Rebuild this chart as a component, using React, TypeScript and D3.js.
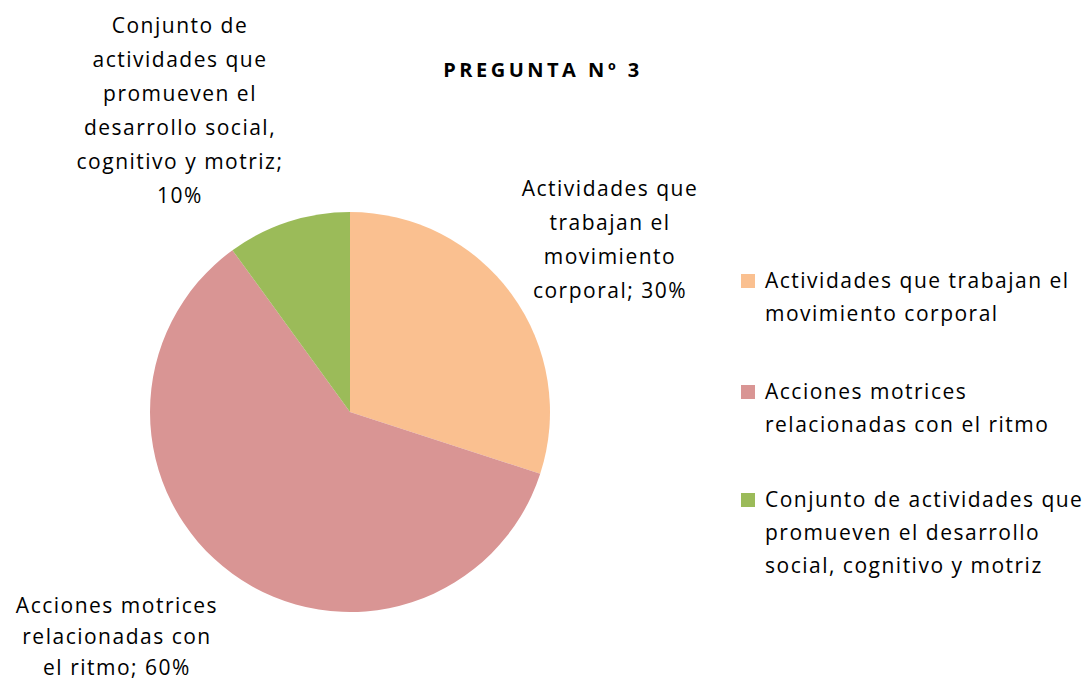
import React, { useEffect, useRef } from 'react';
import * as d3 from 'd3';

const categories = [
  'Actividades que trabajan el movimiento corporal',
  'Acciones motrices relacionadas con el ritmo',
  'Conjunto de actividades que promueven el desarrollo social, cognitivo y motriz',
];
const values = [30, 60, 10];
const colors = ['#FAC090', '#D99594', '#9BBB59'];

// label text as wrapped in the picture
const labelLines = [
  ['Actividades que', 'trabajan el', 'movimiento', 'corporal; 30%'],
  ['Acciones motrices', 'relacionadas con', 'el ritmo; 60%'],
  ['Conjunto de', 'actividades que', 'promueven el', 'desarrollo social,', 'cognitivo y motriz;', '10%'],
];
const legendLines = [
  ['Actividades que trabajan el', 'movimiento corporal'],
  ['Acciones motrices', 'relacionadas con el ritmo'],
  ['Conjunto de actividades que', 'promueven el desarrollo', 'social, cognitivo y motriz'],
];
const title = 'PREGUNTA Nº 3';

const App: React.FC = () => {
  const svgRef = useRef<SVGSVGElement>(null);

  useEffect(() => {
    if (!svgRef.current) return;
    const svg = d3.select(svgRef.current);
    svg.selectAll('*').remove();

    const width = 1091;
    const height = 681;
    const cx = 350;
    const cy = 412;
    const radius = 200;
    const font = '"Open Sans", "DejaVu Sans", sans-serif';
    const fontSize = 21;
    const spacing = 1.5;
    const lineH = 34;

    svg.attr('width', width).attr('height', height);
    svg.append('rect').attr('width', width).attr('height', height).attr('fill', '#ffffff');

    // title
    svg
      .append('text')
      .attr('x', 543)
      .attr('y', 77)
      .attr('text-anchor', 'middle')
      .attr('font-family', font)
      .attr('font-size', 20)
      .attr('font-weight', 'bold')
      .attr('letter-spacing', 3.5)
      .text(title);

    // pie
    const pie = d3
      .pie<number>()
      .sort(null)
      .value(d => d);
    const arc = d3.arc<d3.PieArcDatum<number>>().innerRadius(0).outerRadius(radius);

    const g = svg.append('g').attr('transform', `translate(${cx}, ${cy})`);
    g.selectAll('path')
      .data(pie(values))
      .enter()
      .append('path')
      .attr('d', arc)
      .attr('fill', (_, i) => colors[i]);

    // data labels (Excel places them outside the pie)
    const labelPos = [
      { x: 610, y: 196 },
      { x: 117, y: 613 },
      { x: 180, y: 33 },
    ];
    labelLines.forEach((lines, i) => {
      const t = svg
        .append('text')
        .attr('text-anchor', 'middle')
        .attr('font-family', font)
        .attr('font-size', fontSize)
        .attr('letter-spacing', spacing)
        .attr('fill', '#000');
      lines.forEach((line, j) => {
        t.append('tspan')
          .attr('x', labelPos[i].x)
          .attr('y', labelPos[i].y + j * (i === 1 ? 31 : lineH))
          .text(line);
      });
    });

    // legend
    const legendTop = [281, 392, 500];
    categories.forEach((cat, i) => {
      const lg = svg.append('g').attr('transform', `translate(741, ${legendTop[i]})`);
      lg.append('rect')
        .attr('x', 0)
        .attr('y', -7)
        .attr('width', 14)
        .attr('height', 14)
        .attr('fill', colors[i]);
      const t = lg
        .append('text')
        .attr('font-family', font)
        .attr('font-size', fontSize)
        .attr('letter-spacing', spacing)
        .attr('fill', '#000');
      t.append('title').text(cat);
      legendLines[i].forEach((line, j) => {
        t.append('tspan')
          .attr('x', 24)
          .attr('y', 7 + j * 33)
          .text(line);
      });
    });
  }, []);

  return (
    <div style={{ position: 'absolute', left: 0, top: 0, width: 1091, height: 681 }}>
      <svg ref={svgRef} style={{ display: 'block' }}></svg>
    </div>
  );
};

export default App;
